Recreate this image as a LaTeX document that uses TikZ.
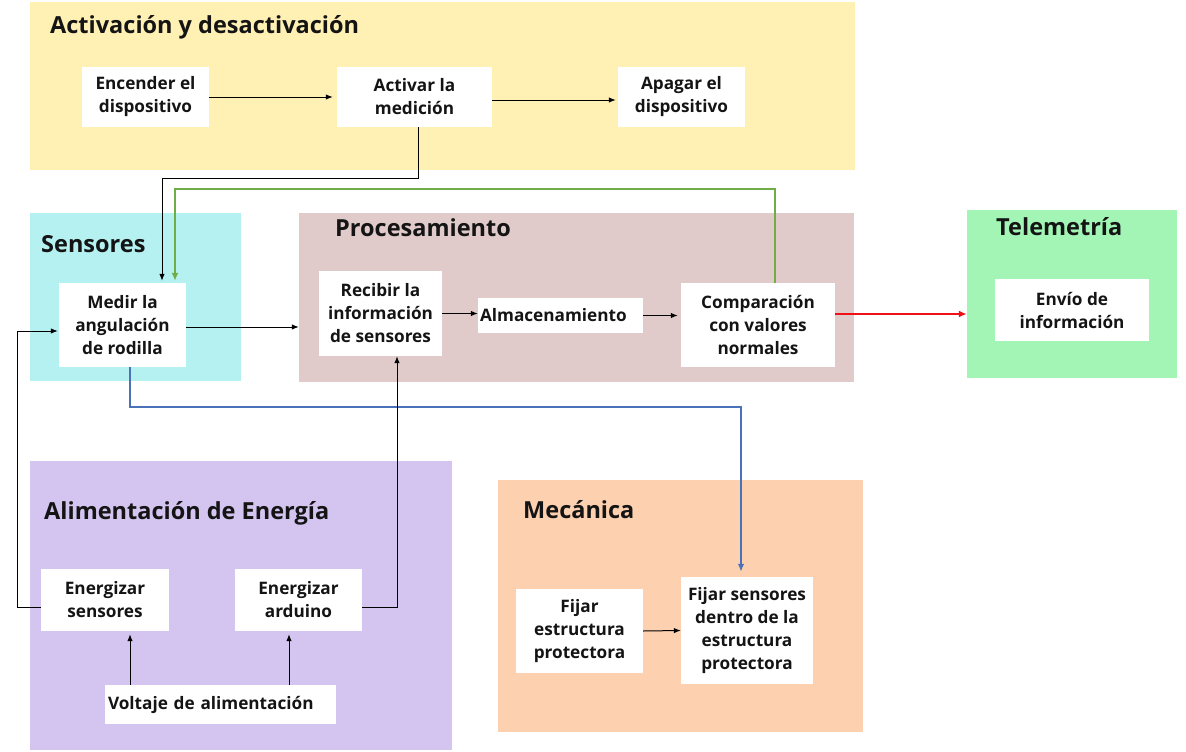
\documentclass[tikz,border=0pt]{standalone}
\usepackage{fontspec}
\setmainfont{Open Sans}
\usetikzlibrary{arrows.meta}
\definecolor{cyel}{HTML}{FFF0B4}
\definecolor{ccyan}{HTML}{B5F1F1}
\definecolor{crose}{HTML}{E0CACA}
\definecolor{cgreen}{HTML}{A2F5B4}
\definecolor{cpurple}{HTML}{D3C4F0}
\definecolor{csalmon}{HTML}{FDD0B0}
\definecolor{cgline}{HTML}{70AD47}
\definecolor{cbline}{HTML}{4A72B8}
\definecolor{crline}{HTML}{F01018}
\definecolor{ctext}{HTML}{141414}
\tikzset{
  region/.style={fill=#1, draw=none, inner sep=0pt},
  box/.style={fill=white, draw=none, inner sep=0pt, align=center, text=ctext,
    font=\bfseries\fontsize{17.2}{23}\selectfont},
  ttl/.style={anchor=base west, inner sep=0pt, text=ctext, font=\bfseries\fontsize{23.5}{28}\selectfont},
  arr/.style={draw=black, line width=1pt, -{Latex[length=7pt,width=5.5pt]}},
}
\begin{document}
\begin{tikzpicture}[x=1pt,y=-1pt]
\useasboundingbox (0,0) rectangle (1186,752);
\fill[white] (0,0) rectangle (1186,752);
% regions
\node[region=cyel, minimum width=825, minimum height=168] (yreg) at (442.5,86) {};
\node[region=ccyan, minimum width=211, minimum height=168] (sreg) at (135.5,297) {};
\node[region=crose, minimum width=555, minimum height=169] (preg) at (576.5,297.5) {};
\node[region=cgreen, minimum width=210, minimum height=168] (treg) at (1072,294) {};
\node[region=cpurple, minimum width=422, minimum height=289] (areg) at (241,605.5) {};
\node[region=csalmon, minimum width=365, minimum height=252] (mreg) at (680.5,606) {};
% titles
\node[ttl] (t1) at (50,34) {Activación y desactivación};
\node[ttl] (t2) at (41,252) {Sensores};
\node[ttl] (t3) at (335,236) {Procesamiento};
\node[ttl] (t4) at (996,235) {Telemetría};
\node[ttl] (t5) at (44,519) {Alimentación de Energía};
\node[ttl] (t6) at (523,518) {Mecánica};
% boxes
\node[box, minimum width=127, minimum height=60] (enc) at (145.5,97) {Encender el\\dispositivo};
\node[box, minimum width=155, minimum height=60] (act) at (414.5,97) {Activar la\\medición};
\node[box, minimum width=127, minimum height=60] (apa) at (681.5,97) {Apagar el\\dispositivo};
\node[box, minimum width=127, minimum height=84] (med) at (122.5,325) {Medir la\\angulación\\de rodilla};
\node[box, minimum width=123, minimum height=85] (rec) at (380.5,313.5) {Recibir la\\información\\de sensores};
\node[box, text width=161, inner xsep=2, align=left, minimum height=35] (alm) at (560.5,315.5) {Almacenamiento};
\node[box, minimum width=154, minimum height=84] (com) at (758,325) {Comparación\\con valores\\normales};
\node[box, minimum width=154, minimum height=62] (env) at (1072,310) {Envío de\\información};
\node[box, minimum width=128, minimum height=62] (ens) at (105,600) {Energizar\\sensores};
\node[box, minimum width=127, minimum height=62] (ard) at (298.5,600) {Energizar\\arduino};
\node[box, text width=225, inner xsep=3, align=left, minimum height=39] (vol) at (220.5,704.5) {Voltaje de alimentación};
\node[box, minimum width=127, minimum height=84] (fie) at (579.5,631) {Fijar\\estructura\\protectora};
\node[box, minimum width=132, minimum height=107] (fis) at (747,630.5) {Fijar sensores\\dentro de la\\estructura\\protectora};
% connectors
\draw[arr, shorten >=4pt] (enc.east) -- (act.west);
\draw[arr, shorten >=2pt] ([yshift=-3]act.east) -- ([yshift=-3]act.east -| apa.west);
\draw[arr, shorten >=2pt] ([xshift=3.5]act.south) -- ++(0,51) -| ([xshift=39.5]med.north);
\draw[arr, draw=cgline, line width=2.5pt, -{Latex[length=8pt,width=7pt]}, shorten >=2pt] ([xshift=17]com.north) -- ++(0,-94) -| ([xshift=52.5]med.north);
\draw[arr, draw=cbline, line width=1.5pt, -{Latex[length=8pt,width=6.5pt]}, shorten >=5pt] ([xshift=7.5]med.south) -- ++(0,40) -| ([xshift=-6]fis.north);
\draw[arr] ([yshift=-2]med.east) -- ([yshift=-2]med.east -| preg.west);
\draw[arr] (rec.east) -- (rec.east -| alm.west);
\draw[arr, shorten >=3pt] (alm.east) -- (alm.east -| com.west);
\draw[arr, draw=crline, line width=2.5pt, -{Latex[length=8pt,width=7pt]}] ([yshift=11]com.east) -- ([yshift=11]com.east -| treg.west);
\draw[arr, shorten >=1pt] ([yshift=-7]ens.west) -- ++(-23,0) |- ([yshift=-6]med.west);
\draw[arr] ([yshift=-7]ard.east) -| ([xshift=16.5]rec.south);
\draw[arr, shorten >=3pt] ([xshift=-90.5]vol.north) -- ([xshift=25]ens.south);
\draw[arr, shorten >=3pt] ([xshift=68.5]vol.north) -- ([xshift=-9.5]ard.south);
\draw[arr] (fie.east) -- (fis.west);
\end{tikzpicture}
\end{document}
